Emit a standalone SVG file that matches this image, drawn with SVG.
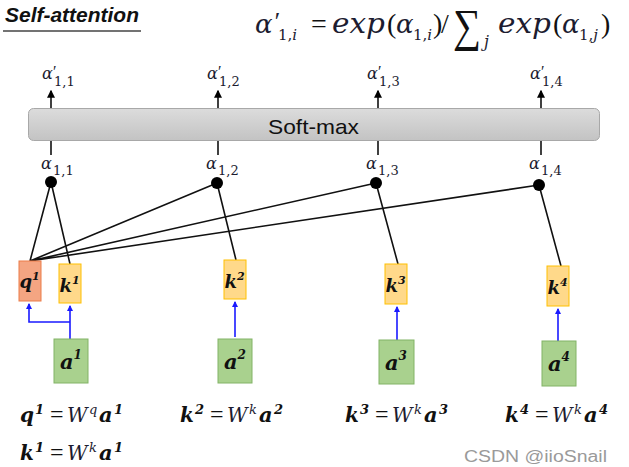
<svg xmlns="http://www.w3.org/2000/svg" width="629" height="467" viewBox="0 0 629 467">
<defs>
<linearGradient id="gbar" x1="0" y1="0" x2="0" y2="1">
<stop offset="0" stop-color="#dcdcdc"/><stop offset="1" stop-color="#c3c3c3"/>
</linearGradient>
<marker id="ab" viewBox="0 0 6 6" refX="5" refY="3" markerWidth="5" markerHeight="5" orient="auto"><path d="M0,0 L6,3 L0,6 z" fill="#000"/></marker>
<marker id="au" viewBox="0 0 6 6" refX="5" refY="3" markerWidth="4" markerHeight="4" orient="auto"><path d="M0,0 L6,3 L0,6 z" fill="#1a1aff"/></marker>
</defs>
<style>
.m{font-family:"DejaVu Serif",serif;font-style:italic;fill:#1c1c30}
.n{font-family:"DejaVu Serif",serif;font-style:normal;fill:#1c1c30}
.p{font-family:"Liberation Serif",serif;font-style:italic;fill:#1c1c30}
.bi{font-family:"DejaVu Serif",serif;font-style:italic;font-weight:bold;fill:#111}
.r{font-family:"Liberation Serif",serif;font-style:normal;fill:#111}
.q{fill:#f4a582;stroke:#ec7c48;stroke-width:1}
.k{fill:#ffd98a;stroke:#ffc000;stroke-width:1}
.a{fill:#a9d18e;stroke:#82b366;stroke-width:1}
.bl{stroke:#111;stroke-width:1.6;fill:none}
.bu{stroke:#1a1aff;stroke-width:1.6;fill:none}
.dot{fill:#000}
</style>

<g id="title">
<text x="5" y="22" font-family="Liberation Sans, sans-serif" font-weight="bold" font-style="italic" font-size="21" fill="#111" textLength="134" lengthAdjust="spacingAndGlyphs">Self-attention</text>
<line x1="3" y1="31" x2="141" y2="31" stroke="#444" stroke-width="1.5"/>
</g>

<g id="formula">
<text class="m" x="255" y="33" font-size="26">α</text>
<text class="p" x="273" y="30" font-size="26">′</text>
<text class="n" x="278" y="40" font-size="15">1,<tspan class="m">i</tspan></text>
<text class="r" x="311" y="33" font-size="28">=</text>
<text class="m" x="332" y="33" font-size="27" textLength="53" lengthAdjust="spacingAndGlyphs">exp</text>
<text class="r" x="387" y="33" font-size="28">(</text>
<text class="m" x="396" y="33" font-size="26">α</text>
<text class="n" x="413" y="40" font-size="15">1,<tspan class="m">i</tspan></text>
<text class="r" x="433" y="33" font-size="28">)</text>
<text class="r" x="441" y="33" font-size="28" font-style="italic">/</text>
<text class="r" x="453" y="41" font-size="46" textLength="28" lengthAdjust="spacingAndGlyphs">∑</text>
<text class="m" x="484" y="47" font-size="16">j</text>
<text class="m" x="498" y="33" font-size="27" textLength="53" lengthAdjust="spacingAndGlyphs">exp</text>
<text class="r" x="553" y="33" font-size="28">(</text>
<text class="m" x="562" y="33" font-size="26">α</text>
<text class="n" x="579" y="40" font-size="15">1,<tspan class="m">j</tspan></text>
<text class="r" x="601" y="33" font-size="28">)</text>
</g>

<g id="softmax">
<rect x="28.5" y="108.5" width="571" height="32" rx="5" fill="url(#gbar)" stroke="#a8a8a8"/>
<text x="268" y="134" font-family="Liberation Sans, sans-serif" font-size="21" fill="#111" textLength="91" lengthAdjust="spacingAndGlyphs">Soft-max</text>
</g>

<g id="outputs">
<text class="m" x="42" y="79" font-size="16">α</text><text class="p" x="52" y="77" font-size="16">′</text><text class="n" x="54" y="86" font-size="13">1,1</text>
<text class="m" x="207" y="79" font-size="16">α</text><text class="p" x="217" y="77" font-size="16">′</text><text class="n" x="219" y="86" font-size="13">1,2</text>
<text class="m" x="367" y="79" font-size="16">α</text><text class="p" x="377" y="77" font-size="16">′</text><text class="n" x="379" y="86" font-size="13">1,3</text>
<text class="m" x="530" y="79" font-size="16">α</text><text class="p" x="540" y="77" font-size="16">′</text><text class="n" x="542" y="86" font-size="13">1,4</text>
</g>

<g id="scores">
<text class="m" x="41" y="169" font-size="16">α</text><text class="n" x="53" y="175" font-size="13">1,1</text>
<text class="m" x="206" y="169" font-size="16">α</text><text class="n" x="218" y="175" font-size="13">1,2</text>
<text class="m" x="366" y="169" font-size="16">α</text><text class="n" x="378" y="175" font-size="13">1,3</text>
<text class="m" x="529" y="169" font-size="16">α</text><text class="n" x="541" y="175" font-size="13">1,4</text>
</g>

<g id="connectors">
<line class="bl" x1="51" y1="108" x2="51" y2="91" stroke-width="1.3" marker-end="url(#ab)"/>
<line class="bl" x1="218" y1="108" x2="218" y2="91" stroke-width="1.3" marker-end="url(#ab)"/>
<line class="bl" x1="378" y1="108" x2="378" y2="91" stroke-width="1.3" marker-end="url(#ab)"/>
<line class="bl" x1="541" y1="108" x2="541" y2="91" stroke-width="1.3" marker-end="url(#ab)"/>
<line class="bl" x1="51" y1="141" x2="51" y2="155" stroke-width="1.3"/>
<line class="bl" x1="218" y1="141" x2="218" y2="155" stroke-width="1.3"/>
<line class="bl" x1="378" y1="141" x2="378" y2="155" stroke-width="1.3"/>
<line class="bl" x1="541" y1="141" x2="541" y2="155" stroke-width="1.3"/>
<path class="bl" d="M30,261 L51,182 M30,261 L217,183 M30,261 L376,183 M30,261 L539,185"/>
<path class="bl" d="M70,264 L51,182 M236,260 L217,183 M398,264 L376,183 M561,266 L539,185"/>
<path class="bu" d="M70,339 L70,306" marker-end="url(#au)"/>
<path class="bu" d="M70,322 L29,322 L29,304" marker-end="url(#au)"/>
<path class="bu" d="M235,337 L235,302" marker-end="url(#au)"/>
<path class="bu" d="M397,340 L397,307" marker-end="url(#au)"/>
<path class="bu" d="M558,341 L558,309" marker-end="url(#au)"/>
</g>

<g id="dots">
<circle class="dot" cx="51" cy="182" r="6"/>
<circle class="dot" cx="217" cy="183" r="6"/>
<circle class="dot" cx="376" cy="183" r="6"/>
<circle class="dot" cx="539" cy="185" r="6"/>
</g>

<g id="q1"><rect class="q" x="19" y="261" width="22" height="40"/><text class="bi" x="19.5" y="288" font-size="18">q<tspan font-size="11" dy="-8">1</tspan></text></g>
<g id="k1"><rect class="k" x="59" y="264" width="22" height="39"/><text class="bi" x="59.5" y="292" font-size="18">k<tspan font-size="11" dy="-8">1</tspan></text></g>
<g id="k2"><rect class="k" x="224" y="260" width="22" height="39"/><text class="bi" x="224.5" y="288" font-size="18">k<tspan font-size="11" dy="-8">2</tspan></text></g>
<g id="k3"><rect class="k" x="385" y="264" width="22" height="40"/><text class="bi" x="385.5" y="292" font-size="18">k<tspan font-size="11" dy="-8">3</tspan></text></g>
<g id="k4"><rect class="k" x="547" y="266" width="22" height="40"/><text class="bi" x="547.5" y="294" font-size="18">k<tspan font-size="11" dy="-8">4</tspan></text></g>

<g id="a1"><rect class="a" x="54" y="339" width="34" height="44"/><text class="bi" x="60" y="369" font-size="21">a<tspan font-size="12" dy="-10">1</tspan></text></g>
<g id="a2"><rect class="a" x="218" y="339" width="34" height="44"/><text class="bi" x="224" y="369" font-size="21">a<tspan font-size="12" dy="-10">2</tspan></text></g>
<g id="a3"><rect class="a" x="379" y="340" width="35" height="44"/><text class="bi" x="385" y="370" font-size="21">a<tspan font-size="12" dy="-10">3</tspan></text></g>
<g id="a4"><rect class="a" x="542" y="341" width="34" height="45"/><text class="bi" x="548" y="371" font-size="21">a<tspan font-size="12" dy="-10">4</tspan></text></g>

<g id="equations">
<text y="422"><tspan class="bi" x="20" font-size="20">q</tspan><tspan class="bi" x="35" dy="-8" font-size="13">1</tspan><tspan class="r" x="50" dy="8" font-size="24">=</tspan><tspan class="m" x="67" font-size="20">W</tspan><tspan class="m" x="89" dy="-8" font-size="13">q</tspan><tspan class="bi" x="99" dy="8" font-size="21">a</tspan><tspan class="bi" x="114" dy="-8" font-size="13">1</tspan></text>
<text y="422"><tspan class="bi" x="180" font-size="20">k</tspan><tspan class="bi" x="195" dy="-8" font-size="13">2</tspan><tspan class="r" x="210" dy="8" font-size="24">=</tspan><tspan class="m" x="227" font-size="20">W</tspan><tspan class="m" x="249" dy="-8" font-size="13">k</tspan><tspan class="bi" x="259" dy="8" font-size="21">a</tspan><tspan class="bi" x="274" dy="-8" font-size="13">2</tspan></text>
<text y="422"><tspan class="bi" x="345" font-size="20">k</tspan><tspan class="bi" x="360" dy="-8" font-size="13">3</tspan><tspan class="r" x="375" dy="8" font-size="24">=</tspan><tspan class="m" x="392" font-size="20">W</tspan><tspan class="m" x="414" dy="-8" font-size="13">k</tspan><tspan class="bi" x="424" dy="8" font-size="21">a</tspan><tspan class="bi" x="439" dy="-8" font-size="13">3</tspan></text>
<text y="422"><tspan class="bi" x="505" font-size="20">k</tspan><tspan class="bi" x="520" dy="-8" font-size="13">4</tspan><tspan class="r" x="535" dy="8" font-size="24">=</tspan><tspan class="m" x="552" font-size="20">W</tspan><tspan class="m" x="574" dy="-8" font-size="13">k</tspan><tspan class="bi" x="584" dy="8" font-size="21">a</tspan><tspan class="bi" x="599" dy="-8" font-size="13">4</tspan></text>
<text y="460"><tspan class="bi" x="20" font-size="20">k</tspan><tspan class="bi" x="35" dy="-8" font-size="13">1</tspan><tspan class="r" x="50" dy="8" font-size="24">=</tspan><tspan class="m" x="67" font-size="20">W</tspan><tspan class="m" x="89" dy="-8" font-size="13">k</tspan><tspan class="bi" x="99" dy="8" font-size="21">a</tspan><tspan class="bi" x="114" dy="-8" font-size="13">1</tspan></text>
</g>

<g id="watermark">
<text x="464" y="462" font-family="Liberation Sans, sans-serif" font-size="16" fill="#9a9a9a" textLength="143" lengthAdjust="spacingAndGlyphs">CSDN @iioSnail</text>
</g>
</svg>
